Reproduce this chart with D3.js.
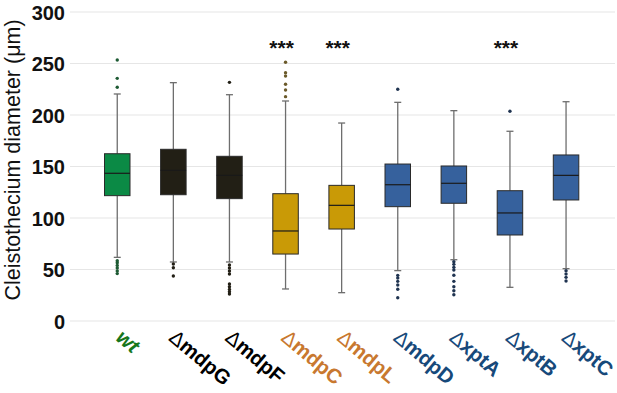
<!DOCTYPE html>
<html><head><meta charset="utf-8">
<script src="https://cdn.jsdelivr.net/npm/d3@7/dist/d3.min.js"></script>
<style>body{margin:0;background:#fff}svg{display:block}</style>
</head><body><svg id="c" width="617" height="393"></svg>
<script>
const categories = ["wt","ΔmdpG","ΔmdpF","ΔmdpC","ΔmdpL","ΔmdpD","ΔxptA","ΔxptB","ΔxptC"];
const groups = ["wt","dark","dark","gold","gold","blue","blue","blue","blue"];
const lowerWhisker = [61.8, 57.3, 57.3, 31.1, 27.5, 48.9, 59.5, 32.7, 50.8];
const q1 = [121.7, 122.6, 118.8, 65.0, 89.3, 111.0, 114.3, 83.5, 117.5];
const median = [143.4, 146.3, 141.4, 87.4, 112.3, 132.3, 133.7, 104.9, 141.4];
const q3 = [162.4, 166.7, 159.9, 123.6, 131.7, 152.4, 150.5, 126.5, 161.2];
const upperWhisker = [220.4, 231.4, 219.7, 213.6, 192.2, 212.3, 204.2, 184.2, 212.9];
const outliers = [
  [253.4, 235.6, 227, 58.5, 56.5, 54, 51.5, 48.5, 46],
  [55.3, 51.7, 43.7],
  [231.7, 54.4, 51.5, 48.5, 45.6, 35.9, 33.3, 30.7, 28.4, 26.2],
  [251.2, 241.1, 237.9, 229.8, 224.3, 217.8],
  [],
  [225, 44.3, 41.7, 38.5, 35, 30.8, 22.6],
  [57.6, 55, 52.1, 49.5, 44.4, 38.5, 33.3, 29.4, 25.5],
  [203.6],
  [48.9, 45.6, 42.4, 38.8]
];
const significant = ["ΔmdpC","ΔmdpL","ΔxptB"];
const yTicks = [0, 50, 100, 150, 200, 250, 300];
const yTitle = "Cleistothecium diameter (μm)";

const fillColor = {wt:"#0b8a45", dark:"#221f15", gold:"#c99a06", blue:"#36619d"};
const dotColor = {wt:"#1d5a33", dark:"#221f15", gold:"#6b5a2a", blue:"#1f3350"};
const labelColor = {wt:"#16761c", dark:"#000000", gold:"#c8782f", blue:"#17497a"};

const svg = d3.select("#c");
const y = d3.scaleLinear().domain([0, 300]).range([321, 12]);
const x = d3.scaleBand().domain(categories).range([89.2, 594.1]).padding(0);
const bw = 25.5;

// grid
svg.append("g").selectAll("line").data(yTicks).join("line")
  .attr("x1", 70).attr("x2", 615)
  .attr("y1", d => y(d)).attr("y2", d => y(d))
  .attr("stroke", "#e6e6e6").attr("stroke-width", 1.2);

// y axis labels
const yAxis = d3.axisLeft(y).tickValues(yTicks).tickSize(0).tickPadding(0);
const ga = svg.append("g").attr("transform", "translate(65,0)").call(yAxis);
ga.select(".domain").remove();
ga.selectAll("text").attr("font-family", "Liberation Sans, Arial, sans-serif")
  .attr("font-size", 20).attr("font-weight", "bold").attr("fill", "#111").attr("dy", "0.36em");

svg.append("text").attr("transform", "translate(20,160) rotate(-90)")
  .attr("text-anchor", "middle").attr("font-family", "Liberation Sans, Arial, sans-serif")
  .attr("font-size", 21.5).attr("fill", "#111").text(yTitle);

const data = categories.map((c, i) => ({c, g: groups[i], lw: lowerWhisker[i], q1: q1[i], med: median[i], q3: q3[i], uw: upperWhisker[i], out: outliers[i]}));

const bx = svg.append("g").selectAll("g").data(data).join("g")
  .attr("transform", d => `translate(${x(d.c) + x.bandwidth()/2},0)`);

// whiskers
bx.append("line").attr("x1", 0).attr("x2", 0).attr("y1", d => y(d.uw)).attr("y2", d => y(d.q3))
  .attr("stroke", "#6e6e6e").attr("stroke-width", 1.3);
bx.append("line").attr("x1", 0).attr("x2", 0).attr("y1", d => y(d.q1)).attr("y2", d => y(d.lw))
  .attr("stroke", "#6e6e6e").attr("stroke-width", 1.3);
bx.append("line").attr("x1", -3.5).attr("x2", 3.5).attr("y1", d => y(d.uw)).attr("y2", d => y(d.uw))
  .attr("stroke", "#6e6e6e").attr("stroke-width", 1.3);
bx.append("line").attr("x1", -3.5).attr("x2", 3.5).attr("y1", d => y(d.lw)).attr("y2", d => y(d.lw))
  .attr("stroke", "#6e6e6e").attr("stroke-width", 1.3);

// boxes
bx.append("rect").attr("x", -bw/2).attr("width", bw)
  .attr("y", d => y(d.q3)).attr("height", d => y(d.q1) - y(d.q3))
  .attr("fill", d => fillColor[d.g]).attr("stroke", "#2a2a2a").attr("stroke-width", 1);
bx.append("line").attr("x1", -bw/2).attr("x2", bw/2)
  .attr("y1", d => y(d.med)).attr("y2", d => y(d.med))
  .attr("stroke", "#1a1a1a").attr("stroke-width", 1.2);

// outliers
bx.selectAll("circle").data(d => d.out.map(v => ({v, g: d.g}))).join("circle")
  .attr("cx", 0).attr("cy", d => y(d.v)).attr("r", 1.7)
  .attr("fill", d => dotColor[d.g]);

// significance
svg.append("g").selectAll("text").data(significant).join("text")
  .attr("x", d => x(d) + x.bandwidth()/2 - 4).attr("y", 55)
  .attr("text-anchor", "middle").attr("font-family", "Liberation Sans, Arial, sans-serif")
  .attr("font-size", 21).attr("font-weight", "bold").attr("fill", "#111").text("***");

// x labels
svg.append("g").selectAll("text").data(data).join("text")
  .attr("transform", d => `translate(${x(d.c) + x.bandwidth()/2 + (d.c === "wt" ? 8 : 5)},${327}) rotate(40)`)
  .attr("dy", "0.8em")
  .attr("font-family", "Liberation Sans, Arial, sans-serif").attr("font-size", 20.5)
  .attr("font-weight", "bold").attr("font-style", d => d.c === "wt" ? "italic" : "normal")
  .attr("fill", d => labelColor[d.g])
  .each(function(d) {
    const t = d3.select(this);
    if (d.c.startsWith("Δ")) {
      t.append("tspan").attr("font-weight", "normal").text("Δ");
      t.append("tspan").text(d.c.slice(1));
    } else t.text(d.c);
  });
</script></body></html>
